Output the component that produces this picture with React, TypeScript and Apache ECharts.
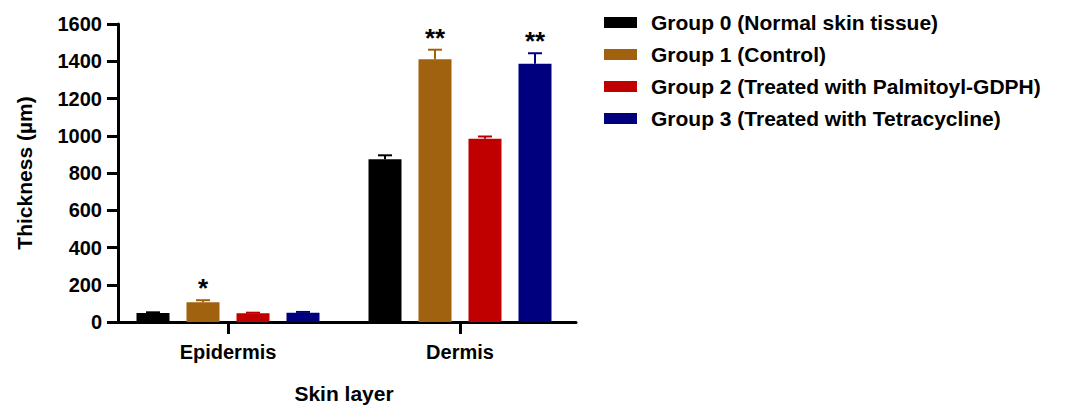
import React, { useEffect, useRef } from "react";
import * as echarts from "echarts";

const layers = ["Epidermis", "Dermis"];
const groupNames = [
  "Group 0 (Normal skin tissue)",
  "Group 1 (Control)",
  "Group 2 (Treated with Palmitoyl-GDPH)",
  "Group 3 (Treated with Tetracycline)",
];
const groupColors = ["#000000", "#a0620f", "#c00000", "#00007f"];

// mean thickness (µm) per group, [Epidermis, Dermis]
const group0Mean = [48, 874];
const group1Mean = [106, 1411];
const group2Mean = [47, 984];
const group3Mean = [50, 1386];
const means = [group0Mean, group1Mean, group2Mean, group3Mean];

// error (upper half shown) per group
const group0Err = [4, 21];
const group1Err = [11, 51];
const group2Err = [3, 12];
const group3Err = [4, 57];
const errors = [group0Err, group1Err, group2Err, group3Err];

// significance markers per group
const group0Sig = ["", ""];
const group1Sig = ["*", "**"];
const group2Sig = ["", ""];
const group3Sig = ["", "**"];
const sigs = [group0Sig, group1Sig, group2Sig, group3Sig];

const yTicks = [0, 200, 400, 600, 800, 1000, 1200, 1400, 1600];

const FONT = "'Liberation Sans', Arial, Helvetica, sans-serif";
const BAR_W = 33;
const BAR_STEP = 50;

export default function App() {
  const ref = useRef<HTMLDivElement>(null);

  useEffect(() => {
    if (!ref.current) return;
    const chart = echarts.init(ref.current, null, { renderer: "svg" });

    const barSeries = groupNames.map((name, g) => ({
      name,
      type: "bar",
      data: means[g],
      barWidth: BAR_W,
      barGap: "51.5%",
      itemStyle: { color: groupColors[g] },
      z: 2,
    }));

    const errSeries = groupNames.map((name, g) => ({
      type: "custom",
      name: name + " error",
      z: 3,
      data: layers.map((_, i) => [i, means[g][i], errors[g][i]]),
      renderItem: (params: any, api: any) => {
        const cat = api.value(0);
        const v = api.value(1);
        const e = api.value(2);
        const sig = sigs[g][params.dataIndex];
        const base = api.coord([cat, v]);
        const top = api.coord([cat, v + e]);
        const x = base[0] + (g - 1.5) * BAR_STEP;
        const color = groupColors[g];
        const children: any[] = [
          {
            type: "line",
            shape: { x1: x, y1: base[1], x2: x, y2: top[1] },
            style: { stroke: color, lineWidth: 2 },
          },
          {
            type: "line",
            shape: { x1: x - 7, y1: top[1], x2: x + 7, y2: top[1] },
            style: { stroke: color, lineWidth: 2 },
          },
        ];
        if (sig) {
          children.push({
            type: "text",
            x,
            y: top[1] + 1,
            style: {
              text: sig,
              fill: "#000",
              font: `bold 26px ${FONT}`,
              align: "center",
              verticalAlign: "bottom",
            },
          });
        }
        return { type: "group", children };
      },
    }));

    chart.setOption({
      animation: false,
      backgroundColor: "#ffffff",
      textStyle: { fontFamily: FONT },
      grid: { left: 112, right: 495, top: 24, bottom: 83, containLabel: false },
      legend: {
        data: groupNames,
        orient: "vertical",
        left: 599,
        top: 7,
        itemWidth: 33,
        itemHeight: 11,
        itemGap: 11,
        icon: "rect",
        selectedMode: false,
        textStyle: {
          fontFamily: FONT,
          fontWeight: "bold",
          fontSize: 21,
          color: "#000",
          padding: [0, 0, 0, 9],
        },
      },
      xAxis: {
        type: "category",
        data: layers,
        name: "Skin layer",
        nameLocation: "middle",
        nameGap: 61,
        nameTextStyle: { fontFamily: FONT, fontWeight: "bold", fontSize: 21, color: "#000" },
        axisLine: { lineStyle: { color: "#000", width: 3 } },
        axisTick: { show: true, alignWithLabel: true, length: 12, lineStyle: { color: "#000", width: 3 } },
        axisLabel: { fontFamily: FONT, fontWeight: "bold", fontSize: 20, color: "#000", margin: 20 },
      },
      yAxis: {
        type: "value",
        min: 0,
        max: 1600,
        interval: 200,
        offset: -6,
        name: "Thickness (µm)",
        nameLocation: "middle",
        nameGap: 83,
        nameTextStyle: { fontFamily: FONT, fontWeight: "bold", fontSize: 21, color: "#000" },
        splitLine: { show: false },
        axisLine: { show: true, lineStyle: { color: "#000", width: 3 } },
        axisTick: { show: true, length: 11, lineStyle: { color: "#000", width: 3 } },
        axisLabel: {
          fontFamily: FONT,
          fontWeight: "bold",
          fontSize: 20,
          color: "#000",
          margin: 16,
          formatter: (val: number) => (yTicks.includes(val) ? String(val) : ""),
        },
      },
      series: [...barSeries, ...errSeries],
    });

    return () => chart.dispose();
  }, []);

  return (
    <div
      ref={ref}
      style={{ position: "fixed", left: 0, top: 0, width: 1071, height: 409 }}
    />
  );
}
